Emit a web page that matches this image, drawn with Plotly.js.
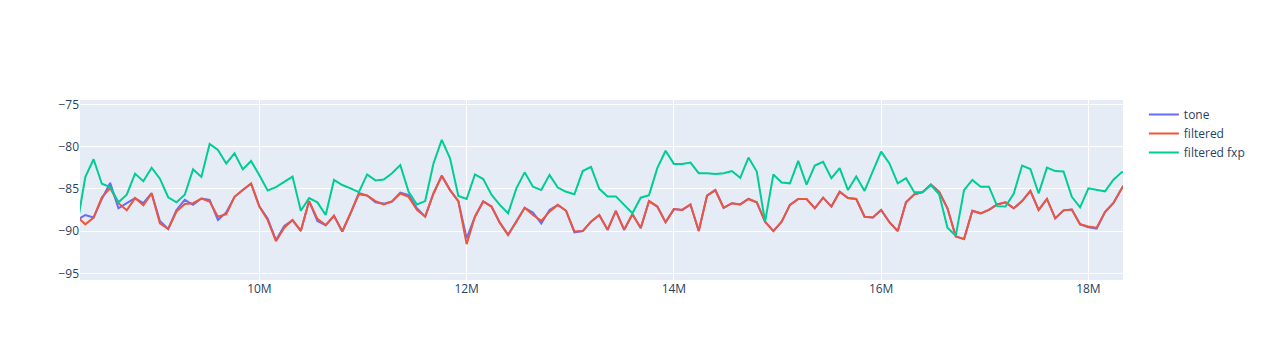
<!DOCTYPE html>
<html>
<head>
<meta charset="utf-8">
<script src="https://cdn.plot.ly/plotly-3.0.1.min.js"></script>
<style>html,body{margin:0;padding:0;background:#fff;}</style>
</head>
<body>
<div id="chart" style="width:1268px;height:360px;"></div>
<script>
// Frequency (MHz)
const freqMHz = [
8.24, 8.32, 8.40, 8.48, 8.56, 8.64, 8.72, 8.80, 8.88, 8.96,
9.04, 9.12, 9.20, 9.28, 9.36, 9.44, 9.52, 9.60, 9.68, 9.76,
9.84, 9.92, 10.00, 10.08, 10.16, 10.24, 10.32, 10.40, 10.48, 10.56,
10.64, 10.72, 10.80, 10.88, 10.96, 11.04, 11.12, 11.20, 11.28, 11.36,
11.44, 11.52, 11.60, 11.68, 11.76, 11.84, 11.92, 12.00, 12.08, 12.16,
12.24, 12.32, 12.40, 12.48, 12.56, 12.64, 12.72, 12.80, 12.88, 12.96,
13.04, 13.12, 13.20, 13.28, 13.36, 13.44, 13.52, 13.60, 13.68, 13.76,
13.84, 13.92, 14.00, 14.08, 14.16, 14.24, 14.32, 14.40, 14.48, 14.56,
14.64, 14.72, 14.80, 14.88, 14.96, 15.04, 15.12, 15.20, 15.28, 15.36,
15.44, 15.52, 15.60, 15.68, 15.76, 15.84, 15.92, 16.00, 16.08, 16.16,
16.24, 16.32, 16.40, 16.48, 16.56, 16.64, 16.72, 16.80, 16.88, 16.96,
17.04, 17.12, 17.20, 17.28, 17.36, 17.44, 17.52, 17.60, 17.68, 17.76,
17.84, 17.92, 18.00, 18.08, 18.16, 18.24, 18.32, 18.40
];

const tone = [
-88.7, -88.1, -88.4, -86.2, -84.3, -87.3, -86.7, -86.1, -86.7, -85.5,
-88.8, -89.75, -87.5, -86.3, -86.9, -86.15, -86.3, -88.7, -87.8, -85.95,
-85.15, -84.4, -87.1, -88.5, -91.1, -89.4, -88.7, -90.0, -86.45, -88.8,
-89.3, -88.2, -90.05, -87.9, -85.5, -85.8, -86.6, -86.75, -86.5, -85.45,
-85.75, -87.3, -88.3, -85.55, -83.45, -85.15, -86.45, -90.85, -88.3, -86.5,
-87.1, -89.0, -90.45, -88.9, -87.25, -87.8, -89.1, -87.5, -86.9, -87.6,
-90.15, -90.0, -88.9, -88.1, -89.85, -87.6, -89.85, -88.0, -89.65, -86.45,
-87.1, -88.95, -87.4, -87.5, -86.85, -90.0, -85.8, -85.15, -87.25, -86.7,
-86.85, -86.2, -86.6, -88.9, -90.0, -88.9, -86.9, -86.2, -86.2, -87.3,
-86.05, -87.1, -85.35, -86.1, -86.2, -88.3, -88.4, -87.5, -88.95, -90.0,
-86.6, -85.65, -85.4, -84.5, -85.35, -87.3, -90.65, -90.95, -87.6, -87.9,
-87.5, -86.85, -86.6, -87.3, -86.45, -85.25, -87.5, -86.2, -88.5, -87.55,
-87.45, -89.2, -89.55, -89.7, -87.75, -86.7, -85.0, -83.5
];

const filtered = [
-88.3, -89.2, -88.4, -86.0, -84.9, -86.7, -87.55, -86.1, -86.95, -85.55,
-89.1, -89.75, -87.7, -86.8, -86.7, -86.15, -86.5, -88.3, -88.0, -85.95,
-85.15, -84.35, -87.1, -88.7, -91.2, -89.6, -88.7, -89.95, -86.45, -88.55,
-89.3, -88.2, -90.05, -87.9, -85.65, -85.8, -86.45, -86.85, -86.5, -85.55,
-85.95, -87.5, -88.3, -85.55, -83.45, -85.15, -86.45, -91.55, -88.3, -86.5,
-87.1, -89.0, -90.45, -88.9, -87.25, -88.1, -88.8, -87.7, -86.9, -87.6,
-90.05, -90.0, -88.9, -88.1, -89.85, -87.6, -89.85, -88.0, -89.65, -86.45,
-87.1, -88.95, -87.4, -87.5, -86.85, -90.0, -85.8, -85.15, -87.25, -86.7,
-86.85, -86.2, -86.6, -88.9, -90.0, -88.9, -86.9, -86.2, -86.2, -87.3,
-86.05, -87.1, -85.35, -86.1, -86.2, -88.3, -88.4, -87.5, -88.95, -90.0,
-86.6, -85.65, -85.4, -84.5, -85.35, -87.3, -90.65, -90.95, -87.6, -87.9,
-87.5, -86.85, -86.6, -87.3, -86.45, -85.25, -87.5, -86.2, -88.5, -87.55,
-87.45, -89.2, -89.45, -89.6, -87.75, -86.7, -85.0, -83.5
];

const filteredFxp = [
-89.4, -83.6, -81.5, -84.4, -84.8, -86.6, -85.7, -83.2, -84.1, -82.5,
-83.8, -86.0, -86.6, -85.7, -82.7, -83.6, -79.7, -80.4, -82.0, -80.8,
-82.7, -81.7, -83.4, -85.2, -84.8, -84.2, -83.55, -87.6, -86.1, -86.6,
-88.1, -83.95, -84.55, -84.95, -85.4, -83.3, -84.0, -83.9, -83.15, -82.2,
-85.35, -86.85, -86.45, -82.0, -79.2, -81.4, -85.85, -86.2, -83.3, -83.85,
-85.7, -86.9, -87.9, -84.95, -83.05, -84.75, -85.15, -83.35, -84.85, -85.35,
-85.65, -82.9, -82.4, -85.0, -85.9, -85.9, -86.85, -87.9, -86.05, -85.75,
-82.55, -80.5, -82.05, -82.05, -81.9, -83.15, -83.15, -83.25, -83.15, -82.9,
-83.7, -81.3, -82.95, -88.9, -83.3, -84.25, -84.35, -81.7, -84.5, -82.25,
-81.8, -83.75, -82.55, -85.15, -83.55, -85.25, -82.9, -80.6, -82.0, -84.35,
-83.75, -85.4, -85.4, -84.55, -85.65, -89.6, -90.55, -85.15, -83.95, -84.75,
-84.75, -87.05, -87.1, -85.55, -82.25, -82.65, -85.55, -82.5, -82.9, -82.95,
-85.95, -87.2, -84.95, -85.15, -85.3, -83.95, -83.05, -82.8
];

const seriesNames = ['tone', 'filtered', 'filtered fxp'];
const seriesColors = ['#636efa', '#EF553B', '#00cc96'];

const x = freqMHz.map(v => Math.round(v * 1e6));
const ys = [tone, filtered, filteredFxp];

const traces = ys.map((y, i) => ({
  type: 'scatter',
  mode: 'lines',
  name: seriesNames[i],
  x: x,
  y: y,
  line: {color: seriesColors[i], width: 2}
}));

const axisCommon = {
  gridcolor: 'white',
  linecolor: 'white',
  zerolinecolor: 'white',
  zerolinewidth: 2,
  ticks: '',
  showline: false
};

const layout = {
  width: 1268,
  height: 360,
  margin: {l: 80, r: 145, t: 100, b: 80},
  paper_bgcolor: 'white',
  plot_bgcolor: '#E5ECF6',
  font: {family: '"Open Sans", verdana, arial, sans-serif', size: 12, color: '#2a3f5f'},
  xaxis: Object.assign({}, axisCommon, {range: [8.269e6, 18.334e6], dtick: 2e6, tick0: 0, zeroline: false}),
  yaxis: Object.assign({}, axisCommon, {range: [-95.79, -74.49], dtick: 5, zeroline: false}),
  legend: {font: {color: '#2a3f5f'}},
  showlegend: true
};

Plotly.newPlot('chart', traces, layout, {displayModeBar: false});
</script>
</body>
</html>
